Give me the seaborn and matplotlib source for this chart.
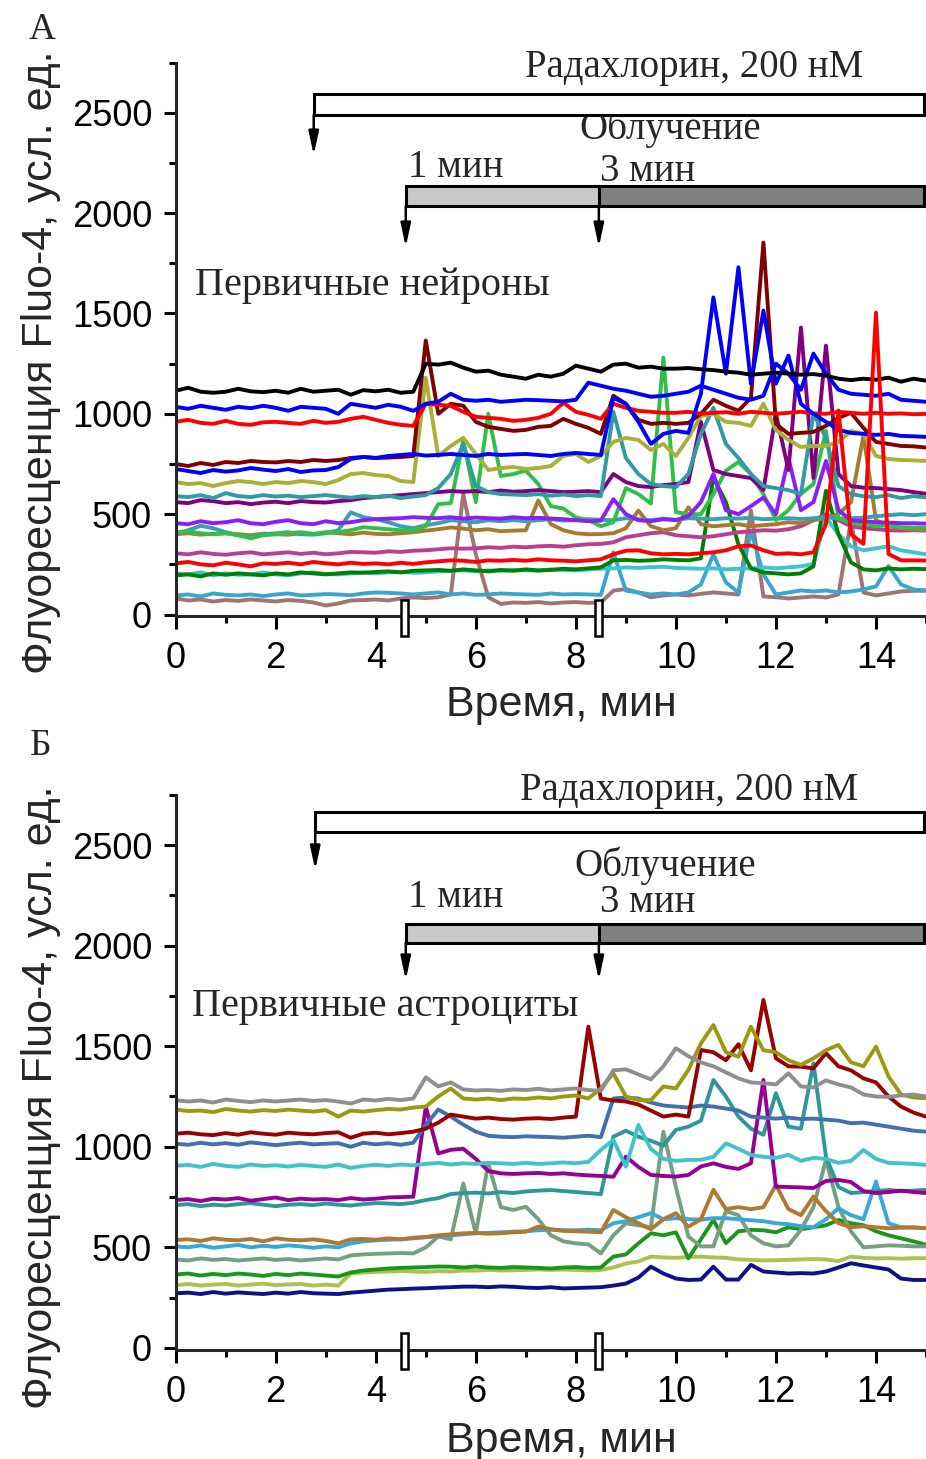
import numpy as np
import pandas as pd
import matplotlib
matplotlib.use("Agg")
import matplotlib.pyplot as plt
from matplotlib.patches import Rectangle
from matplotlib.ticker import MultipleLocator
import seaborn as sns

# Recording time, min (one frame every 15 s)
time_min = np.arange(61) * 0.25

# ---- Panel A: primary neurons, Fluo-4 fluorescence (a.u.) ----
a_mauve = [80,70,75,65, 72,68,75,70, 65,72,68,60, 45,55,70,72, 75,70,80,85,
           82,86,100,600, 300,86,53,60, 58,62,55,60, 62,58,60,119, 127,110,86,95,
           100,95,103,110, 105,100,518,90, 86,80,85,90, 85,100,468,110, 95,105,115,118, 119]
a_ltblue = [95,100,90,105, 98,95,100,92, 100,105,95,98, 102,100,96,105, 110,108,105,100,
            105,110,100,105, 98,100,105,102, 100,98,105,100, 102,100,98,310, 119,110,100,105,
            100,110,150,300, 160,110,417,200, 100,110,120,115, 120,110,115,125, 140,242,150,125, 120]
a_cyan = [205,200,210,195, 205,198,200,210, 200,195,205,210, 202,200,205,210, 205,210,212,208,
          210,215,218,220, 215,220,218,222, 220,218,225,222, 220,225,228,230, 235,232,236,238,
          232,230,228,230, 225,228,230,235, 230,235,240,252, 483,400,340,320, 330,340,320,310, 300]
a_dkgreen = [195,200,190,205, 198,205,200,195, 205,200,210,205, 200,205,210,208, 212,215,210,218,
             220,222,218,225, 220,215,222,218, 225,220,222,228, 225,230,235,270, 272,268,270,275,
             272,270,280,684, 560,350,230,210, 205,200,205,240, 617,400,260,225, 220,230,225,228, 226]
a_magenta = [305,300,310,302, 298,305,310,300, 305,310,302,308, 300,305,312,310, 308,315,312,318,
             320,325,330,328, 330,335,332,338, 335,340,342,338, 345,350,352,360, 385,395,405,410,
             395,390,385,390, 400,410,415,420, 418,425,440,470, 500,470,440,430, 425,420,418,420, 418]
a_brown = [400,405,398,402, 405,400,395,403, 400,398,405,400, 410,405,400,408, 402,400,405,410,
           418,425,434,428, 420,425,415,418, 420,568,450,420, 405,400,401,405, 430,518,440,420,
           430,534,450,440, 445,450,440,445, 450,460,455,470, 480,500,560,891, 470,440,430,425, 420]
a_teal2 = [400,420,442,430, 410,395,385,400, 405,410,400,398, 405,420,509,485, 475,460,440,430,
           445,455,470,465, 460,470,465,470, 465,470,475,468, 470,475,472,470, 480,475,470,478,
           472,480,478,475, 480,478,482,475, 478,480,476,480, 485,478,480,482, 490,495,500,495, 500]
a_green = [410,415,405,400, 405,395,380,395, 400,405,410,402, 408,410,420,435, 430,425,420,418,
           440,550,555,866, 560,1000,690,700, 717,650,540,528, 484,470,440,460, 630,600,553,1280,
           510,500,500,600, 717,760,700,600, 470,520,602,650, 916,480,455,450, 440,445,435,433, 433]
a_violet = [455,450,465,455, 460,470,455,450, 462,470,455,450, 465,455,460,470, 475,478,480,485,
            482,480,485,478, 483,480,478,485, 480,482,478,475, 470,465,468,575, 500,470,465,475,
            470,490,560,700, 520,500,540,583, 500,780,520,560, 765,520,470,465, 460,458,455,455, 453]
a_purple = [560,555,570,565, 555,560,550,558, 562,555,565,560, 558,565,570,580, 585,590,595,600,
            605,610,615,612, 615,610,618,612, 615,620,615,610, 612,615,610,700, 660,640,635,645,
            650,660,960,720, 700,690,680,620, 1000,720,1430,680, 1340,700,640,632, 630,625,620,610, 602]
a_teal = [590,585,595,580, 605,590,585,595, 588,592,585,590, 595,588,582,590, 585,592,580,588,
          595,630,700,850, 640,610,600,598, 595,600,592,598, 590,595,590,1010, 780,700,650,640,
          635,700,900,1030, 850,780,700,640, 630,620,600,1000, 880,640,600,590, 585,595,580,590, 583]
a_olive = [660,650,655,640, 655,665,660,650, 660,655,665,660, 650,670,700,705, 695,690,665,660,
           1180,790,840,880, 800,720,730,735, 725,730,740,790, 800,760,790,860, 880,870,820,850,
           790,880,990,1000, 960,955,940,1050, 920,870,835,840, 840,860,915,900, 790,775,770,768, 765]
a_maroon = [750,740,755,745, 760,755,765,760, 758,765,760,770, 765,770,780,785, 780,782,785,790,
            1365,1000,1050,1040, 960,935,925,915, 920,935,940,975, 950,930,900,1090, 1050,970,950,955,
            950,955,1000,1070, 1040,1015,1080,1853, 950,900,905,910, 940,980,1005,930, 860,850,840,838, 832]
a_red1 = [960,970,955,950, 965,950,945,958, 960,955,950,965, 955,960,975,985, 970,955,945,940,
          1050,1045,1040,1010, 985,980,975,965, 970,980,1000,1055, 1010,995,975,1050, 1030,1015,1010,1005,
          1005,1010,1000,1005, 1008,1000,1010,1005, 1000,1005,1010,1002, 1000,1010,1005,1000, 1005,1000,1002,998, 1000]
a_blue2 = [725,715,705,720, 712,718,730,722, 715,725,710,718, 720,735,775,785, 780,790,795,800,
           792,795,800,795, 790,800,795,798, 800,795,790,800, 805,800,795,1080, 1050,960,850,900,
           915,905,1100,1580, 1200,1730,1150,1514, 1150,1290,1050,1000, 960,920,905,900, 895,900,890,888, 885]
a_blue1 = [1035,1025,1040,1030, 1020,1035,1028,1040, 1030,1015,1035,1030, 1025,1000,1050,1040, 1030,1045,1035,1015,
           1050,1060,1100,1070, 1065,1070,1060,1065, 1070,1068,1065,1062, 1070,1155,1140,1125, 1115,1100,1085,1090,
           1100,1110,1140,1120, 1100,1080,1070,1090, 1250,1200,1120,1300, 1200,1120,1100,1095, 1090,1100,1070,1065, 1060]
a_black = [1115,1130,1110,1105, 1110,1125,1112,1108, 1115,1105,1125,1110, 1115,1120,1095,1118, 1112,1120,1105,1110,
           1250,1245,1255,1230, 1210,1215,1195,1185, 1175,1195,1185,1200, 1240,1225,1210,1245, 1250,1230,1235,1225,
           1225,1228,1222,1218, 1210,1205,1195,1200, 1205,1200,1195,1198, 1190,1175,1168,1175, 1170,1180,1160,1175, 1165]
a_red2 = [255,262,250,245, 258,250,240,255, 252,258,250,262, 255,250,258,252, 255,250,258,252,
          260,265,270,268, 262,270,268,272, 268,275,270,268, 265,270,275,300, 318,320,305,300,
          302,300,305,310, 320,340,344,320, 302,305,300,310, 450,1016,400,352, 1504,302,270,270, 269]

# ---- Panel B: primary astrocytes, Fluo-4 fluorescence (a.u.) ----
b_navy = [272,275,268,278, 270,276,272,268, 275,270,278,272, 270,268,275,280, 285,290,292,295,
          297,300,302,305, 305,302,306,304, 300,298,302,296, 298,300,302,310, 320,350,404,370,
          345,338,340,404, 340,340,413,380, 375,370,372,370, 380,400,421,410, 400,390,345,338, 338]
b_ygreen = [312,318,310,315, 318,310,315,320, 312,316,318,310, 315,310,370,375, 378,380,382,380,
            378,382,380,385, 384,388,385,386, 388,390,388,390, 388,385,388,400, 420,430,454,450,
            448,452,454,450, 448,440,438,435, 436,438,440,442, 440,432,454,448, 445,446,444,446, 446]
b_green = [365,370,360,368, 362,370,365,358, 368,362,370,365, 360,355,375,385, 390,395,398,400,
           402,405,404,400, 405,400,398,402, 400,398,395,400, 402,398,400,454, 465,520,570,560,
           575,446,540,636, 521,580,587,585, 575,600,590,600, 610,636,620,610, 580,560,545,530, 513]
b_sage = [440,435,445,438, 442,435,440,445, 438,442,435,440, 445,440,460,465, 468,470,472,470,
          500,554,540,818, 570,917,700,686, 702,640,560,530, 520,515,470,560, 620,610,600,1075,
          800,554,505,505, 680,660,560,520, 505,510,587,700, 935,700,580,500, 505,510,508,505, 505]
b_sky = [505,500,510,498, 505,512,500,508, 502,510,505,498, 505,500,520,530, 535,538,540,545,
         550,555,560,565, 570,572,575,578, 580,585,588,586, 585,588,585,620, 630,650,670,640,
         645,640,638,645, 645,640,635,630, 620,615,605,600, 640,694,660,640, 827,620,600,598, 595]
b_brown = [537,540,532,545, 538,535,542,530, 545,538,535,540, 532,520,540,542, 538,545,540,548,
           552,560,565,570, 572,568,570,575, 578,603,590,582, 580,578,575,686, 650,620,590,640,
           670,603,640,786, 690,700,690,700, 810,690,660,753, 680,620,600,605, 600,595,598,600, 595]
b_teal = [710,715,705,712, 708,715,720,712, 705,712,715,710, 718,712,708,715, 720,718,715,722,
          735,745,765,770, 772,768,775,770, 778,782,785,780, 775,770,765,1050, 1080,1050,1030,1005,
          1084,1100,1130,1332, 1250,1150,1090,1060, 1266,1100,1090,1415, 951,800,770,775, 780,785,780,782, 786]
b_purple = [735,740,730,742, 738,745,732,740, 748,735,742,738, 740,735,745,738, 742,748,750,752,
            1199,967,985,990, 940,880,868,865, 868,870,865,868, 862,858,855,851, 951,900,860,855,
            852,860,902,918, 900,890,918,1332, 802,800,798,795, 830,835,825,780, 770,775,782,775, 770]
b_cyan = [905,910,900,915, 905,900,912,905, 908,902,910,905, 900,912,895,905, 910,905,912,908,
          915,920,912,918, 915,920,918,915, 920,915,918,922, 918,925,984,1034, 901,1108,990,940,
          930,935,935,950, 1017,990,960,950, 945,960,930,945, 940,920,930,984, 940,920,918,915, 910]
b_steel = [1015,1010,1020,1012, 1018,1010,1022,1015, 1008,1015,1020,1012, 1015,1018,1000,1020, 1012,1018,1010,1020,
           1110,1185,1150,1110, 1075,1055,1050,1048, 1052,1050,1048,1045, 1050,1055,1048,1240, 1245,1240,1220,1205,
           1200,1195,1205,1200, 1190,1180,1150,1145, 1140,1145,1138,1140, 1135,1130,1117,1120, 1110,1100,1090,1080, 1075]
b_maroon = [1065,1070,1062,1058, 1068,1060,1072,1065, 1060,1070,1065,1062, 1068,1072,1045,1065, 1070,1062,1068,1075,
            1090,1120,1160,1150, 1140,1145,1138,1135, 1140,1142,1138,1145, 1150,1597,1240,1230, 1225,1210,1180,1150,
            1160,1150,1481,1470, 1430,1510,1380,1730, 1440,1400,1398,1390, 1465,1400,1380,1340, 1320,1250,1200,1170, 1150]
b_olive = [1185,1178,1180,1172, 1188,1180,1175,1182, 1178,1185,1180,1175, 1182,1150,1180,1175, 1182,1188,1185,1195,
           1200,1250,1290,1240, 1235,1240,1232,1240, 1238,1245,1240,1250, 1255,1240,1290,1365, 1250,1232,1232,1300,
           1290,1382,1514,1605, 1470,1448,1597,1480, 1470,1430,1407,1440, 1480,1506,1420,1400, 1498,1350,1260,1245, 1241]
b_grey = [1232,1225,1230,1220, 1235,1228,1222,1230, 1225,1230,1235,1228, 1232,1225,1215,1235, 1230,1238,1232,1240,
          1345,1300,1320,1285, 1280,1282,1278,1285, 1282,1288,1280,1285, 1290,1282,1278,1380, 1385,1360,1335,1400,
          1490,1450,1420,1400, 1370,1340,1320,1316, 1310,1365,1300,1295, 1330,1310,1295,1260, 1250,1248,1255,1260, 1250]

neurons = {
    "mauve": (a_mauve, "#a07474"), "ltblue": (a_ltblue, "#3aa6d0"), "cyan": (a_cyan, "#3ec3d0"),
    "dkgreen": (a_dkgreen, "#008000"), "magenta": (a_magenta, "#b8408f"), "brown": (a_brown, "#a87a30"),
    "teal2": (a_teal2, "#3a9fb0"), "green": (a_green, "#30c048"), "violet": (a_violet, "#8a1ef5"),
    "purple": (a_purple, "#800080"), "teal": (a_teal, "#2f9ca4"), "olive": (a_olive, "#a8b038"),
    "maroon": (a_maroon, "#800000"), "red1": (a_red1, "#ff0000"), "blue2": (a_blue2, "#0000ff"),
    "blue1": (a_blue1, "#0000ff"), "black": (a_black, "#000000"), "red2": (a_red2, "#ff0000"),
}
astrocytes = {
    "navy": (b_navy, "#10108a"), "ygreen": (b_ygreen, "#aac24e"), "green": (b_green, "#1a961a"),
    "sage": (b_sage, "#74a080"), "sky": (b_sky, "#38a8d8"), "brown": (b_brown, "#b07830"),
    "teal": (b_teal, "#2e9898"), "purple": (b_purple, "#950095"), "cyan": (b_cyan, "#40c4cc"),
    "steel": (b_steel, "#4070b0"), "maroon": (b_maroon, "#9a0000"), "olive": (b_olive, "#9a9a10"),
    "grey": (b_grey, "#8f8f8f"),
}

TITLE_RAD = "Радахлорин, 200 нМ"
TITLE_IRR = "Облучение"
T_IRR_1, T_IRR_3 = "1 мин", "3 мин"
X_LABEL = "Время, мин"
Y_LABEL = "Флуоресценция Fluo-4, усл. ед."

# time marks of the protocol, min
T_IRR_START = 4.6
T_IRR_SWITCH = 8.46
T_END = 14.97

sns.set_style("ticks")
plt.rcParams["font.family"] = ["Liberation Sans", "DejaVu Sans"]
SERIF = ["Liberation Serif", "DejaVu Serif"]
LW_AX = 2.2

fig = plt.figure(figsize=(9.26, 14.59), dpi=100)
ax_a = fig.add_axes([0.1897, 0.5777, 0.8103, 0.3794])
ax_b = fig.add_axes([0.1897, 0.0750, 0.8103, 0.3803])


def draw_panel(ax, cells, layout, cell_title):
    frames = [pd.DataFrame({"t": time_min, "F": vals, "cell": name})
              for name, (vals, _) in cells.items()]
    df = pd.concat(frames, ignore_index=True)
    palette = {name: col for name, (_, col) in cells.items()}
    sns.lineplot(data=df, x="t", y="F", hue="cell", hue_order=list(cells),
                 palette=palette, estimator=None, legend=False, lw=2.8, ax=ax)

    ax.set_xlim(0, 15)
    ax.set_ylim(-8, 2750)
    ax.xaxis.set_major_locator(MultipleLocator(2))
    ax.xaxis.set_minor_locator(MultipleLocator(1))
    ax.yaxis.set_major_locator(MultipleLocator(500))
    ax.yaxis.set_minor_locator(MultipleLocator(250))
    sns.despine(ax=ax)
    for side in ("left", "bottom"):
        ax.spines[side].set_linewidth(LW_AX)
    ax.tick_params(which="major", direction="out", length=9, width=LW_AX,
                   labelsize=26, color="black", labelcolor="black")
    ax.tick_params(axis="x", which="major", pad=9)
    ax.tick_params(axis="y", which="major", pad=8)
    ax.tick_params(which="minor", direction="out", length=5, width=LW_AX, color="black")

    ax.set_xlabel(X_LABEL, fontsize=31, va="center")
    ax.xaxis.set_label_coords(0.5135, layout["xlab_y"])
    ax.set_ylabel(Y_LABEL, fontsize=31, va="center")
    ax.yaxis.set_label_coords(-0.1795, layout["ylab_y"])

    # Radachlorin application bar with its arrow
    y0, y1 = layout["rad_bar"]
    ax.add_patch(Rectangle((layout["rad_x"], y0), T_END - layout["rad_x"], y1 - y0,
                           fc="white", ec="black", lw=2.2, clip_on=False, zorder=6))
    ax.annotate("", xy=(layout["rad_x"], layout["rad_arrow"]), xytext=(layout["rad_x"], y0),
                arrowprops=dict(arrowstyle="-|>,head_length=1.4,head_width=0.3", color="black",
                                lw=1.8, shrinkA=0, shrinkB=0), annotation_clip=False, zorder=6)
    ax.text(layout["rad_text"][0], layout["rad_text"][1], TITLE_RAD, family=SERIF,
            fontsize=28, ha="center", va="center")

    # Irradiation bars: 1 min then 3 min
    g0, g1 = layout["irr_bar"]
    ax.add_patch(Rectangle((T_IRR_START, g0), T_IRR_SWITCH - T_IRR_START, g1 - g0,
                           fc="#c8c8c8", ec="black", lw=2.2, clip_on=False, zorder=6))
    ax.add_patch(Rectangle((T_IRR_SWITCH, g0), T_END - T_IRR_SWITCH, g1 - g0,
                           fc="#808080", ec="black", lw=2.2, clip_on=False, zorder=6))
    for x in (T_IRR_START, T_IRR_SWITCH):
        ax.annotate("", xy=(x, layout["irr_arrow"]), xytext=(x, g0),
                    arrowprops=dict(arrowstyle="-|>,head_length=1.4,head_width=0.3",
                                    color="black", lw=1.8, shrinkA=0, shrinkB=0),
                    annotation_clip=False, zorder=6)
    ax.text(layout["irr_text"][0], layout["irr_text"][1], TITLE_IRR, family=SERIF,
            fontsize=28, ha="center", va="center")
    ax.text(T_IRR_START + 0.05, layout["one_min"], T_IRR_1, family=SERIF,
            fontsize=28, ha="left", va="center")
    ax.text(T_IRR_SWITCH + 0.03, layout["three_min"], T_IRR_3, family=SERIF,
            fontsize=28, ha="left", va="center")

    ax.text(layout["cell_text"][0], layout["cell_text"][1], cell_title, family=SERIF,
            fontsize=29, ha="left", va="center")

    # axis break marks on the time axis
    for x in (4.58, T_IRR_SWITCH):
        ax.add_patch(Rectangle((x - 0.07, -0.035), 0.14, 0.064,
                               transform=ax.get_xaxis_transform(), fc="white",
                               ec="black", lw=1.8, clip_on=False, zorder=7))


layout_a = dict(xlab_y=-0.16, ylab_y=0.458, rad_x=2.76, rad_bar=(2489, 2593), rad_arrow=2289,
                rad_text=(10.37, 2728), irr_bar=(2035, 2135), irr_arrow=1831,
                irr_text=(9.89, 2419), one_min=2225, three_min=2205, cell_text=(0.39, 1637))
layout_b = dict(xlab_y=-0.165, ylab_y=0.455, rad_x=2.79, rad_bar=(2565, 2664), rad_arrow=2376,
                rad_text=(10.27, 2773), irr_bar=(2013, 2107), irr_arrow=1829,
                irr_text=(9.79, 2396), one_min=2237, three_min=2212, cell_text=(0.33, 1695))

draw_panel(ax_a, neurons, layout_a, "Первичные нейроны")
draw_panel(ax_b, astrocytes, layout_b, "Первичные астроциты")

fig.text(0.0454, 0.9794, "А", family=SERIF, fontsize=27, ha="center", va="center")
fig.text(0.0443, 0.4887, "Б", family=SERIF, fontsize=27, ha="center", va="center")

fig.savefig("out.png", dpi=100, facecolor="white")
